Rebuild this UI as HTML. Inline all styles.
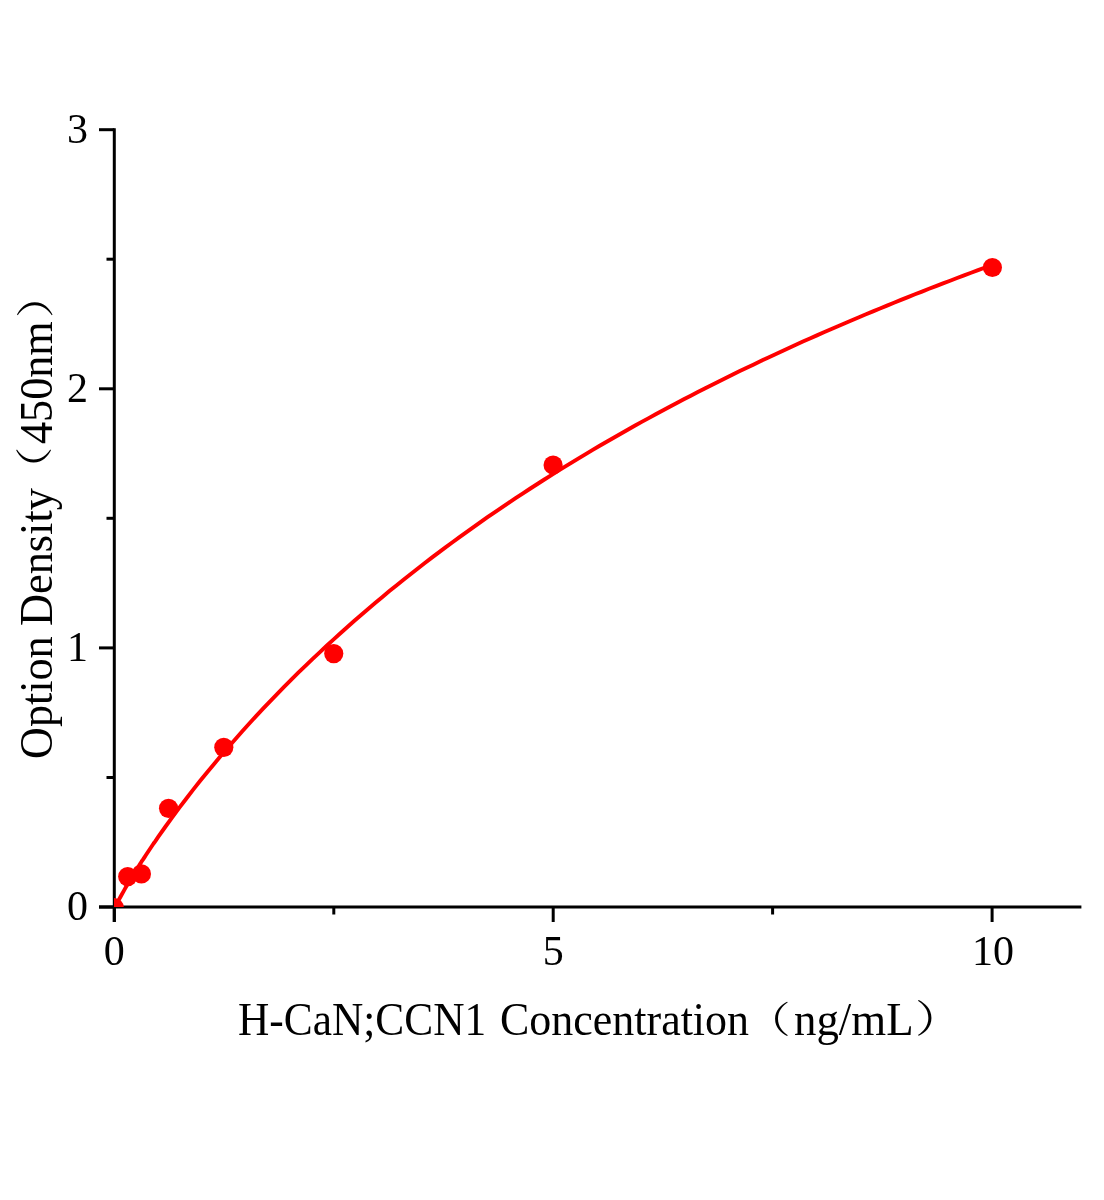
<!DOCTYPE html>
<html><head><meta charset="utf-8"><title>H-CaN;CCN1 standard curve</title>
<style>
html,body{margin:0;padding:0;background:#fff}
#c{position:relative;width:1104px;height:1200px;overflow:hidden;background:#fff}
svg{display:block;position:absolute;left:0;top:0}
text{font-family:"Liberation Serif","Noto Serif CJK SC",serif;fill:#000;font-size:42px}
.t{position:absolute;left:0;top:0;width:0;height:0;font-family:"Liberation Serif","Noto Serif CJK SC",serif;font-size:45.5px;line-height:45px;color:#000;white-space:pre}
.t span{position:absolute;display:block;transform-origin:0 0;white-space:pre}
.t .p{font-family:"Noto Serif CJK SC","Liberation Serif",serif}
#yt{transform-origin:0 0;transform:translate(0px,757px) rotate(-90deg)}
#xa{left:238.00px;top:997.20px;transform:scale(0.9530,1.0000);}
#xb{left:500.49px;top:997.20px;transform:scale(0.9662,1.0000);}
#xc{left:746.36px;top:998.77px;transform:scale(0.9811,0.8073);}
#xd{left:793.61px;top:997.20px;transform:scale(0.9854,1.0000);}
#xe{left:914.72px;top:996.56px;transform:scale(1.0359,0.8386);}
#ya{left:-1.65px;top:13.70px;transform:scale(0.9708,1.0000);}
#yb{left:131.10px;top:13.70px;transform:scale(0.9742,1.0000);}
#yc{left:265.00px;top:13.79px;transform:scale(0.9952,0.8172);}
#yd{left:313.29px;top:13.70px;transform:scale(0.9702,1.0000);}
#ye{left:438.81px;top:13.51px;transform:scale(0.9930,0.8337);}

</style></head><body>
<div id="c">
<svg width="1104" height="1200" viewBox="0 0 1104 1200">
<defs><clipPath id="pa"><rect x="114.1" y="100" width="980" height="807.1"/></clipPath></defs>
<g stroke="#000" stroke-width="3" fill="none">
<line x1="114.3" x2="114.3" y1="128.2" y2="922"/>
<line x1="99" x2="1081.4" y1="907.0" y2="907.0"/>
<line x1="99" x2="114.3" y1="907.0" y2="907.0"/>
<line x1="99" x2="114.3" y1="647.9" y2="647.9"/>
<line x1="99" x2="114.3" y1="388.8" y2="388.8"/>
<line x1="99" x2="114.3" y1="129.7" y2="129.7"/>
<line x1="106.5" x2="114.3" y1="777.5" y2="777.5"/>
<line x1="106.5" x2="114.3" y1="518.3" y2="518.3"/>
<line x1="106.5" x2="114.3" y1="259.2" y2="259.2"/>
<line y1="907.0" y2="922" x1="114.3" x2="114.3"/>
<line y1="907.0" y2="922" x1="553.2" x2="553.2"/>
<line y1="907.0" y2="922" x1="992.1" x2="992.1"/>
<line y1="907.0" y2="914.5" x1="333.8" x2="333.8"/>
<line y1="907.0" y2="914.5" x1="772.6" x2="772.6"/>
</g>
<g clip-path="url(#pa)" fill="#ff0000">
<path d="M114.3 907.0 L115.8 905.8 L117.3 902.8 L118.8 899.9 L120.4 897.0 L121.9 894.3 L123.4 891.6 L124.9 888.9 L126.4 886.3 L127.9 883.7 L129.4 881.2 L130.9 878.7 L132.5 876.2 L134.0 873.7 L135.5 871.3 L137.0 868.9 L138.5 866.5 L140.0 864.1 L141.5 861.7 L143.1 859.4 L144.6 857.1 L146.1 854.8 L147.6 852.5 L149.1 850.2 L150.6 848.0 L152.1 845.7 L153.6 843.5 L155.2 841.3 L156.7 839.1 L158.2 836.9 L165.2 827.0 L172.2 817.3 L179.2 807.9 L186.2 798.7 L193.2 789.6 L200.2 780.8 L207.2 772.2 L214.3 763.7 L221.3 755.3 L228.3 747.2 L235.3 739.2 L242.3 731.3 L249.3 723.5 L256.3 715.9 L263.3 708.4 L270.3 701.1 L277.3 693.8 L284.3 686.7 L291.3 679.6 L298.3 672.7 L305.4 665.9 L312.4 659.2 L319.4 652.6 L326.4 646.0 L333.4 639.6 L340.4 633.3 L347.4 627.0 L354.4 620.8 L361.4 614.7 L368.4 608.7 L375.4 602.8 L382.4 596.9 L389.4 591.1 L396.4 585.4 L403.5 579.8 L410.5 574.2 L417.5 568.7 L424.5 563.3 L431.5 557.9 L438.5 552.6 L445.5 547.4 L452.5 542.2 L459.5 537.1 L466.5 532.1 L473.5 527.1 L480.5 522.1 L487.5 517.2 L494.6 512.4 L501.6 507.6 L508.6 502.9 L515.6 498.2 L522.6 493.6 L529.6 489.0 L536.6 484.5 L543.6 480.0 L550.6 475.6 L557.6 471.2 L564.6 466.9 L571.6 462.6 L578.6 458.3 L585.7 454.1 L592.7 449.9 L599.7 445.8 L606.7 441.7 L613.7 437.7 L620.7 433.7 L627.7 429.7 L634.7 425.8 L641.7 421.9 L648.7 418.1 L655.7 414.2 L662.7 410.5 L669.7 406.7 L676.8 403.0 L683.8 399.3 L690.8 395.7 L697.8 392.1 L704.8 388.5 L711.8 385.0 L718.8 381.5 L725.8 378.0 L732.8 374.5 L739.8 371.1 L746.8 367.7 L753.8 364.4 L760.8 361.0 L767.9 357.7 L774.9 354.5 L781.9 351.2 L788.9 348.0 L795.9 344.8 L802.9 341.6 L809.9 338.5 L816.9 335.4 L823.9 332.3 L830.9 329.2 L837.9 326.2 L844.9 323.2 L851.9 320.2 L859.0 317.2 L866.0 314.3 L873.0 311.4 L880.0 308.5 L887.0 305.6 L894.0 302.8 L901.0 299.9 L908.0 297.1 L915.0 294.3 L922.0 291.6 L929.0 288.8 L936.0 286.1 L943.0 283.4 L950.1 280.7 L957.1 278.0 L964.1 275.4 L971.1 272.7 L978.1 270.1 L985.1 267.5 L992.1 264.9" fill="none" stroke="#ff0000" stroke-width="3.9" stroke-linejoin="round"/>
<circle cx="114.2" cy="907.6" r="9.6"/>
<circle cx="127.7" cy="876.6" r="9.6"/>
<circle cx="141.4" cy="873.9" r="9.6"/>
<circle cx="168.55" cy="808.35" r="9.6"/>
<circle cx="223.8" cy="747.35" r="9.6"/>
<circle cx="333.75" cy="653.6" r="9.6"/>
<circle cx="553.1" cy="465.0" r="9.6"/>
<circle cx="992.4" cy="267.5" r="9.6"/>
</g>
<g>
<text x="88" y="919.8" text-anchor="end">0</text>
<text x="88" y="660.7" text-anchor="end">1</text>
<text x="88" y="401.6" text-anchor="end">2</text>
<text x="88" y="142.5" text-anchor="end">3</text>
<text x="114.3" y="964.6" text-anchor="middle">0</text>
<text x="553.2" y="964.6" text-anchor="middle">5</text>
<text x="993.1" y="964.6" text-anchor="middle">10</text>
</g>
</svg>
<div class="t" id="xt"><span id="xa">H-CaN;CCN1</span> <span id="xb">Concentration</span><span id="xc" class="p">（</span><span id="xd">ng/mL</span><span id="xe" class="p">）</span></div>
<div class="t" id="yt"><span id="ya">Option</span> <span id="yb">Density</span><span id="yc" class="p">（</span><span id="yd">450nm</span><span id="ye" class="p">）</span></div>
</div>
</body></html>
